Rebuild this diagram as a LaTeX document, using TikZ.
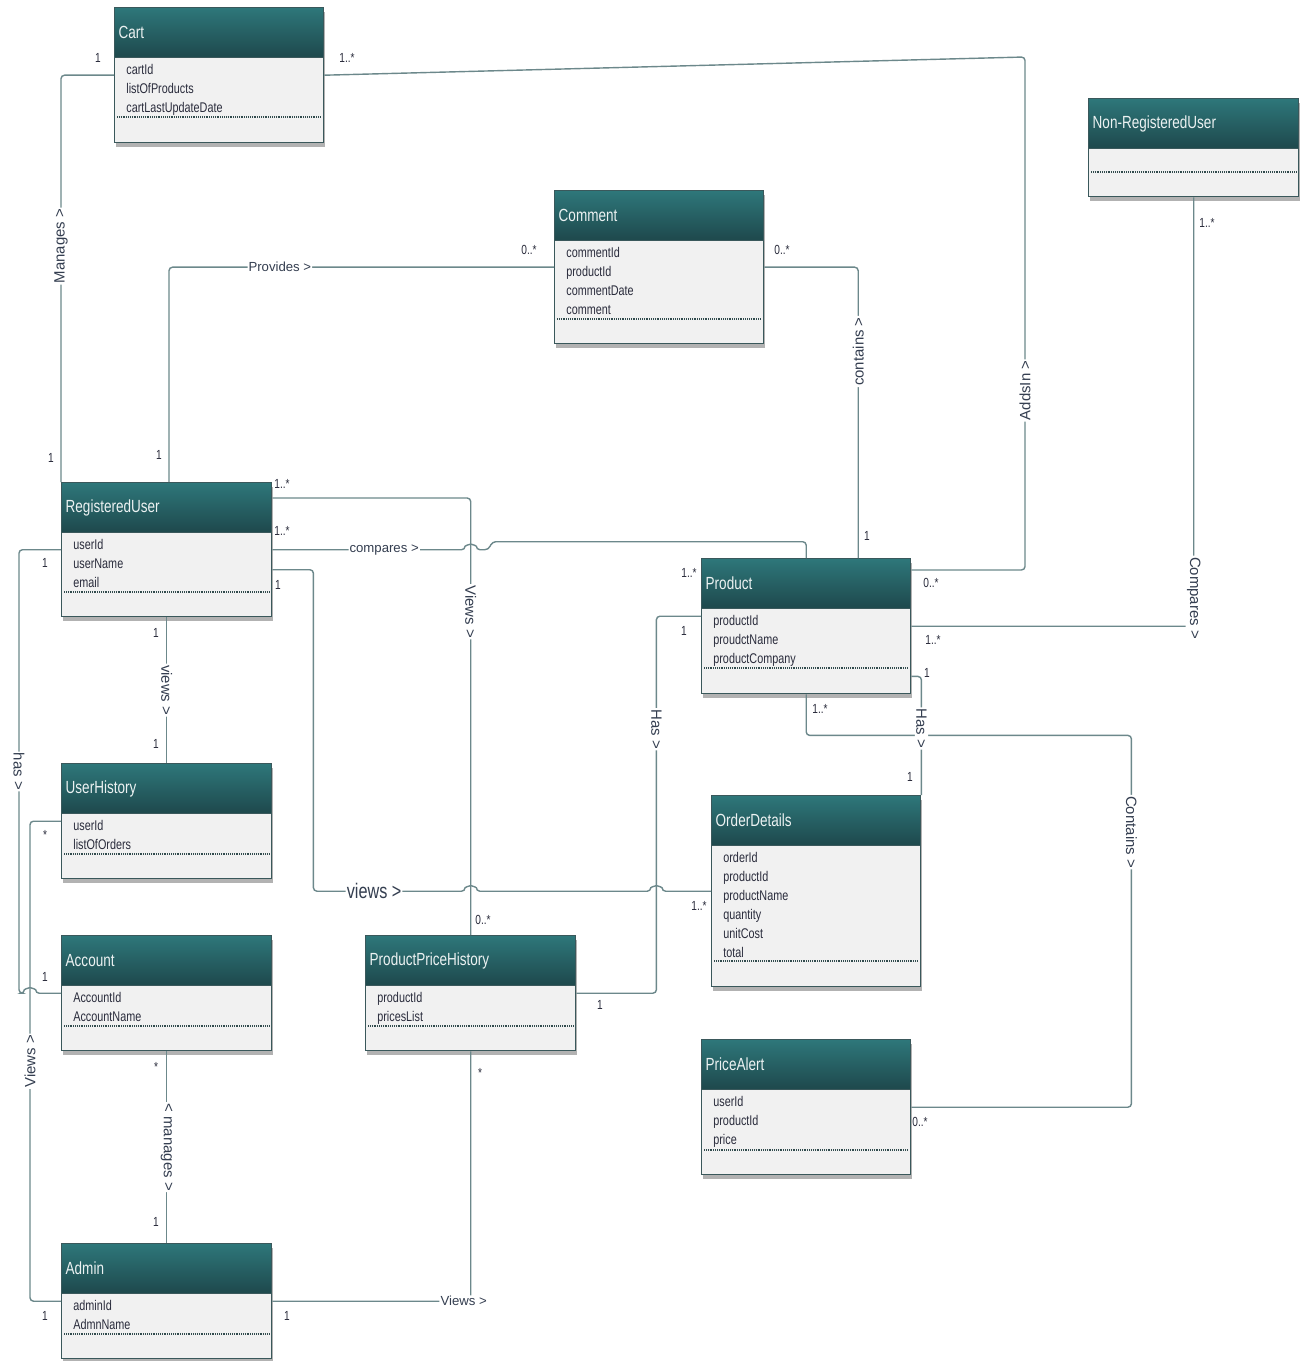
\documentclass[tikz,border=0pt]{standalone}
\usepackage{fontspec}
\setmainfont{Liberation Sans}
\newfontfamily\narrowfont{Liberation Sans}[FakeStretch=0.77]
\usetikzlibrary{calc,shadows}

\definecolor{headtop}{RGB}{46,119,122}
\definecolor{headbot}{RGB}{30,72,76}
\definecolor{headtext}{RGB}{236,242,242}
\definecolor{boxline}{RGB}{58,88,91}
\definecolor{boxfill}{RGB}{241,241,241}
\definecolor{wire}{RGB}{108,136,139}
\definecolor{attrtext}{RGB}{42,44,60}
\definecolor{labeltext}{RGB}{52,62,80}

% #1 name, #2 top left (px), #3 width, #4 height, #5 separator offset, #6 title, #7 attributes
\newcommand{\umlclass}[7]{%
  \pgfmathsetmacro{\clsw}{(#3-8)*0.02}%
  \node[classbox, minimum width=#3*0.02cm, minimum height=#4*0.02cm] (#1) at (#2) {};
  \node[classhead, text width=\clsw cm] (#1-head) at (#1.north west) {#6};
  \node[classattr] (#1-attr) at ($(#1.north west)+(12,57)$) {#7};
  \draw[sepline] ($(#1.north west)+(3,#5)$) -- ($(#1.north east)+(-3,#5)$);
}

\begin{document}
\begin{tikzpicture}[
  x=0.02cm, y=-0.02cm,
  classbox/.style={rectangle, anchor=north west, draw=boxline, fill=boxfill, line width=.8pt, inner sep=0pt,
    drop shadow={shadow xshift=.6pt, shadow yshift=-2.2pt, fill=black, opacity=.3}},
  classhead/.style={rectangle, anchor=north west, draw=boxline, line width=.8pt, top color=headtop, bottom color=headbot,
    minimum height=1cm, inner xsep=.08cm, inner ysep=0pt, align=left, text=headtext,
    font=\narrowfont\fontsize{10}{12}\selectfont},
  classattr/.style={anchor=north west, align=left, inner sep=0pt, text=attrtext,
    font=\narrowfont\fontsize{8}{10.77}\selectfont},
  sepline/.style={draw=boxline!85!black, line width=1pt, dash pattern=on .55pt off .5pt},
  wire/.style={draw=wire, line width=.8pt, rounded corners=2pt},
  hlbl/.style={fill=white, inner sep=.6pt, text=labeltext, font=\fontsize{7.5}{9}\selectfont},
  vlbl/.style={fill=white, inner sep=.8pt, text=labeltext, font=\fontsize{8.5}{10}\selectfont},
  mult/.style={inner sep=0pt, text=attrtext, font=\narrowfont\fontsize{7.5}{9}\selectfont},
  jumpover/.style={insert path={arc[start angle=180, end angle=0, radius=3.2pt]}}
]
  \useasboundingbox (0,0) rectangle (1299,1361);

  % classes
  \umlclass{cart}{114,7}{209}{135}{110}{Cart}{cartId\\listOfProducts\\cartLastUpdateDate}
  \umlclass{comment}{554,190}{209}{153}{129}{Comment}{commentId\\productId\\commentDate\\comment}
  \umlclass{nru}{1088,98}{210}{98}{74}{Non-RegisteredUser}{}
  \umlclass{ru}{61,482}{210}{134}{110}{RegisteredUser}{userId\\userName\\email}
  \umlclass{product}{701,558}{209}{135}{110}{Product}{productId\\proudctName\\productCompany}
  \umlclass{uh}{61,763}{210}{115}{91}{UserHistory}{userId\\listOfOrders}
  \umlclass{od}{711,795}{209}{191}{166}{OrderDetails}{orderId\\productId\\productName\\quantity\\unitCost\\total}
  \umlclass{acc}{61,935}{210}{115}{91}{Account}{AccountId\\AccountName}
  \umlclass{pph}{365,935}{210}{115}{91}{ProductPriceHistory}{productId\\pricesList}
  \umlclass{pa}{701,1039}{209}{135}{111}{PriceAlert}{userId\\productId\\price}
  \umlclass{admin}{61,1243}{210}{115}{91}{Admin}{adminId\\AdmnName}

  \coordinate (addsBend) at (1025,57);
  \coordinate (hasBus) at ($(pph.east)+(80,0)$);
  \coordinate (viewsBus) at ($(uh.west)+(-31,0)$);

  % associations
  \draw[wire] (cart.west) -| node[vlbl, rotate=90, pos=.71] (lblManages) {Manages >} (ru.north west);
  \draw[wire] (cart.east) -- (addsBend) |- node[vlbl, rotate=90, pos=.325] (lblAdds) {AddsIn >} ($(product.north east)+(0,12)$);
  \draw[wire] (comment.west) -| node[hlbl, pos=.356] (lblProvides) {Provides >} ($(ru.north west)+(108,0)$);
  \draw[wire] (comment.east) -| node[vlbl, rotate=90, pos=.645] (lblContains) {contains >} ($(product.north)+(52,0)$);
  \draw[wire] (nru.south) |- node[vlbl, rotate=-90, pos=.467] (lblCompares) {Compares >} (product.east);
  \draw[wire] (ru.east) -- node[hlbl, pos=.58] (lblRuCompares) {compares >} ([xshift=-3.2pt]pph.north |- ru.east) [jumpover]
    -- ++(12,0) -- ++(4,-8) -| (product.north);
  \draw[wire] ($(ru.north east)+(0,16)$) -| node[vlbl, rotate=-90, pos=.63] (lblViewsPph) {Views >} (pph.north);
  \draw[wire] ($(ru.east)+(0,20)$) -- ++(41,0) |- node[hlbl, pos=.7, font=\narrowfont\fontsize{12}{14}\selectfont] (lblViewsOd) {views >}
    ([xshift=-3.2pt]pph.north |- od.west) [jumpover] -- ([xshift=-3.2pt]hasBus |- od.west) [jumpover] -- (od.west);
  \draw[wire] (ru.south) -- node[vlbl, rotate=-90] (lblViewsUh) {views >} (uh.north);
  \draw[wire] (ru.west) -- ++(-42,0) |- node[vlbl, rotate=-90, pos=.25] (lblHas) {has >}
    ([xshift=-3.2pt]viewsBus |- acc.west) [jumpover] -- (acc.west);
  \draw[wire] (uh.west) -- (viewsBus) |- node[vlbl, rotate=90, pos=.25] (lblViewsAdmin) {Views >} (admin.west);
  \draw[wire] (acc.south) -- node[vlbl, rotate=-90] (lblManagesAcc) {< manages >} (admin.north);
  \draw[wire] (pph.south) |- node[hlbl, pos=.5, xshift=-4pt] (lblViewsPa) {Views >} (admin.east);
  \draw[wire] (pph.east) -- (hasBus) |- node[vlbl, rotate=-90, pos=.35] (lblHasPph) {Has >} ($(product.west)+(0,-10)$);
  \draw[wire] (product.south) -- ++(0,41) -| node[vlbl, rotate=-90, pos=.63] (lblContainsPa) {Contains >} ($(pa.east)+(220,0)$) -- (pa.east);
  \draw[wire] ($(product.south east)+(0,-18)$) -| node[vlbl, rotate=-90, pos=.72] (lblHasOd) {Has >} (od.north east);

  % multiplicities
  \node[mult] (m1) at (98,58) {1};
  \node[mult] (m2) at (51,458) {1};
  \node[mult] (m3) at (347,58) {1..*};
  \node[mult] (m4) at (931,583) {0..*};
  \node[mult] (m5) at (529,250) {0..*};
  \node[mult] (m6) at (159,455) {1};
  \node[mult] (m7) at (782,250) {0..*};
  \node[mult] (m8) at (867,536) {1};
  \node[mult] (m9) at (1207,223) {1..*};
  \node[mult] (m10) at (933,640) {1..*};
  \node[mult] (m11) at (282,531) {1..*};
  \node[mult] (m12) at (689,573) {1..*};
  \node[mult] (m13) at (282,484) {1..*};
  \node[mult] (m14) at (483,920) {0..*};
  \node[mult] (m15) at (278,585) {1};
  \node[mult] (m16) at (699,906) {1..*};
  \node[mult] (m17) at (156,633) {1};
  \node[mult] (m18) at (156,744) {1};
  \node[mult] (m19) at (45,563) {1};
  \node[mult] (m20) at (45,977) {1};
  \node[mult] (m21) at (45,835) {*};
  \node[mult] (m22) at (45,1316) {1};
  \node[mult] (m23) at (156,1067) {*};
  \node[mult] (m24) at (156,1222) {1};
  \node[mult] (m25) at (480,1073) {*};
  \node[mult] (m26) at (287,1316) {1};
  \node[mult] (m27) at (600,1005) {1};
  \node[mult] (m28) at (684,631) {1};
  \node[mult] (m29) at (927,673) {1};
  \node[mult] (m30) at (910,777) {1};
  \node[mult] (m31) at (820,709) {1..*};
  \node[mult] (m32) at (920,1122) {0..*};
\end{tikzpicture}
\end{document}
